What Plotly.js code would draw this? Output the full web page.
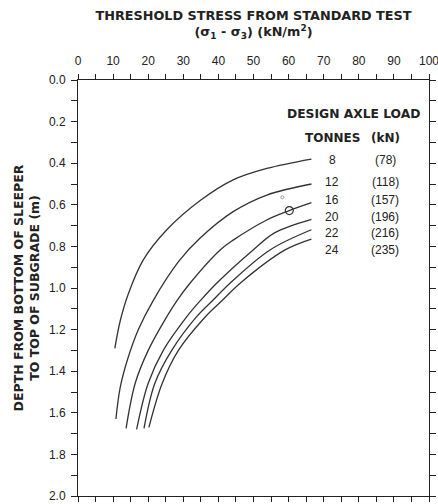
<!DOCTYPE html>
<html>
<head>
<meta charset="utf-8">
<script src="https://cdn.plot.ly/plotly-3.0.1.min.js"></script>
<style>html,body{margin:0;padding:0;background:#fff;}#chart{width:438px;height:504px;}</style>
</head>
<body>
<div id="chart"></div>
<script>
// Design axle load (tonnes) and (kN)
var tonnes = [8, 12, 16, 20, 22, 24];
var kN = [78, 118, 157, 196, 216, 235];

// Threshold stress (kN/m2) vs depth (m) for each curve
var x8  = [66.5, 53.8, 44.2, 35.0, 25.3, 18.6, 14.3, 12.0, 10.5];
var y8  = [0.38, 0.425, 0.48, 0.577, 0.72, 0.865, 1.03, 1.16, 1.29];
var x12 = [66.5, 53.8, 44.2, 34.8, 28.8, 21.5, 17.2, 14.0, 12.0, 10.8];
var y12 = [0.50, 0.553, 0.633, 0.76, 0.87, 1.058, 1.20, 1.35, 1.48, 1.63];
var x16 = [66.5, 60.2, 53.8, 44.2, 40.5, 31.9, 28.3, 25.3, 20.0, 16.3, 13.7];
var y16 = [0.59, 0.628, 0.673, 0.77, 0.817, 0.977, 1.058, 1.138, 1.30, 1.458, 1.675];
var x20 = [66.5, 56.0, 49.9, 39.5, 35.0, 31.0, 24.3, 20.0, 16.7];
var y20 = [0.67, 0.735, 0.817, 0.977, 1.058, 1.138, 1.30, 1.458, 1.68];
var x22 = [66.5, 54.7, 43.3, 38.5, 33.8, 26.7, 21.9, 18.8];
var y22 = [0.72, 0.817, 0.977, 1.058, 1.138, 1.30, 1.458, 1.675];
var x24 = [66.5, 59.0, 46.2, 41.2, 36.3, 28.6, 24.0, 20.2];
var y24 = [0.765, 0.817, 0.977, 1.058, 1.138, 1.30, 1.458, 1.67];

// Marked points on curves
var markX = [60.2];
var markY = [0.628];
var dotX = [58.2];
var dotY = [0.564];

var xs = [x8, x12, x16, x20, x22, x24];
var ys = [y8, y12, y16, y20, y22, y24];

var traces = xs.map(function (xv, i) {
  return {
    x: xv, y: ys[i], type: 'scatter', mode: 'lines',
    line: {color: '#333', width: 1.3, shape: 'spline', smoothing: 1},
    name: tonnes[i] + ' t', hoverinfo: 'skip'
  };
});
traces.push({
  x: markX, y: markY, type: 'scatter', mode: 'markers',
  marker: {symbol: 'circle-open', size: 8, color: '#333', line: {width: 1.2}},
  hoverinfo: 'skip'
});
traces.push({
  x: dotX, y: dotY, type: 'scatter', mode: 'markers',
  marker: {symbol: 'circle-open', size: 3, color: '#888', line: {width: 0.8}},
  hoverinfo: 'skip'
});

var FONT = 'Liberation Sans, Arial, sans-serif';
var BFONT = 'DejaVu Sans, Liberation Sans, sans-serif';
var labelY = [0.385, 0.49, 0.577, 0.66, 0.735, 0.817];
var annotations = [
  {x: 98, y: 0.165, xref: 'x', yref: 'y', text: '<b>DESIGN AXLE LOAD</b>', showarrow: false,
   xanchor: 'right', font: {family: BFONT, size: 12.3, color: '#222'}},
  {x: 72.4, y: 0.28, xref: 'x', yref: 'y', text: '<b>TONNES</b>', showarrow: false,
   font: {family: BFONT, size: 12, color: '#222'}},
  {x: 87.6, y: 0.28, xref: 'x', yref: 'y', text: '<b>(kN)</b>', showarrow: false,
   font: {family: BFONT, size: 12, color: '#222'}}
];
tonnes.forEach(function (t, i) {
  annotations.push({x: 72.4, y: labelY[i], xref: 'x', yref: 'y', text: String(t), showarrow: false,
    font: {family: FONT, size: 12, color: '#222'}});
  annotations.push({x: 87.6, y: labelY[i], xref: 'x', yref: 'y', text: '(' + kN[i] + ')', showarrow: false,
    font: {family: FONT, size: 12, color: '#222'}});
});

var layout = {
  width: 438, height: 504,
  margin: {l: 78, r: 9, t: 80, b: 8},
  paper_bgcolor: '#fff', plot_bgcolor: '#fff',
  showlegend: false,
  font: {family: FONT, size: 11, color: '#222'},
  xaxis: {
    side: 'top', range: [0, 100], dtick: 10, tick0: 0,
    showgrid: false, zeroline: false,
    showline: true, linecolor: '#222', linewidth: 1, mirror: 'ticks',
    ticks: 'outside', ticklen: 5, tickcolor: '#222', tickwidth: 1,
    ticklabelstandoff: 4, ticklabeloverflow: 'allow',
    minor: {dtick: 5, ticks: 'outside', ticklen: 5, tickcolor: '#222', showgrid: false},
    tickfont: {family: FONT, size: 12, color: '#222'},
    title: {text: '<b>THRESHOLD STRESS FROM STANDARD TEST</b><br><b>(σ<sub>1</sub> - σ<sub>3</sub>) (kN/m<sup>2</sup>)</b>',
            font: {family: BFONT, size: 12.8, color: '#222'}, standoff: 14}
  },
  yaxis: {
    range: [2.0, 0], dtick: 0.2, tick0: 0, tickformat: '.1f',
    showgrid: false, zeroline: false,
    showline: true, linecolor: '#222', linewidth: 1, mirror: 'ticks',
    ticks: 'outside', ticklen: 6, tickcolor: '#222', tickwidth: 1,
    ticklabelstandoff: 3,
    minor: {dtick: 0.1, ticks: 'outside', ticklen: 6, tickcolor: '#222', showgrid: false},
    tickfont: {family: FONT, size: 12, color: '#222'},
    title: {text: '<b>DEPTH FROM BOTTOM OF SLEEPER</b><br><b>TO TOP OF SUBGRADE (m)</b>',
            font: {family: BFONT, size: 12.5, color: '#222'}, standoff: 6}
  },
  annotations: annotations
};

Plotly.newPlot('chart', traces, layout, {displayModeBar: false, staticPlot: true});
</script>
</body>
</html>
